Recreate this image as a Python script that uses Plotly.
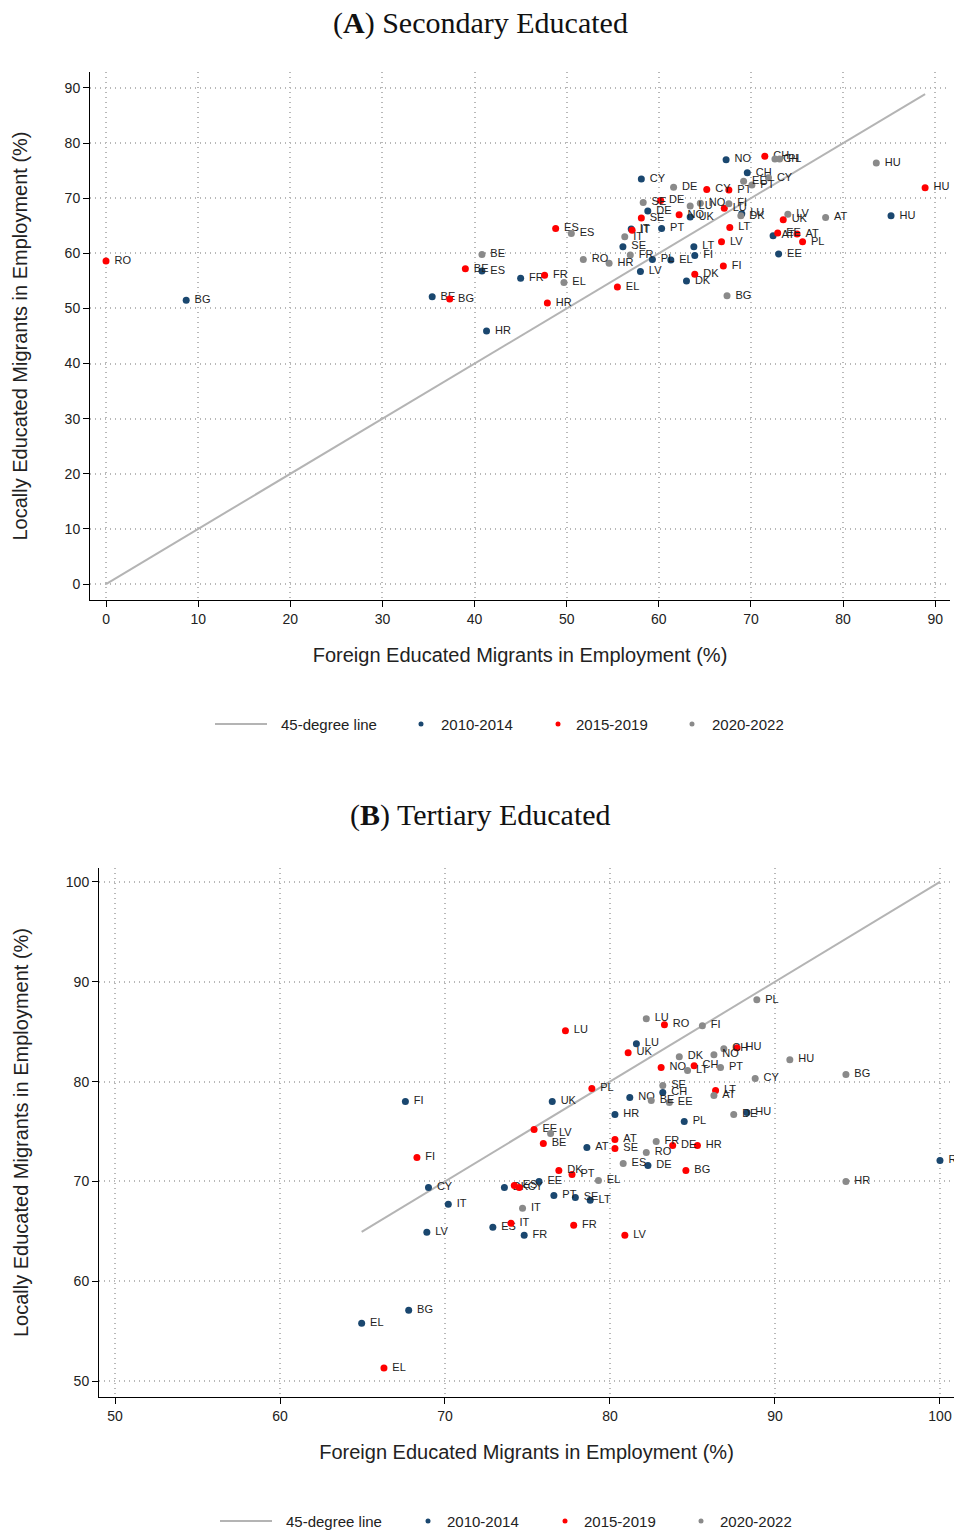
import plotly.graph_objects as go

# ---------------- Panel A: Secondary educated ----------------
a_1014_c = ["BG","BE","ES","HR","FR","SE","IT","LV","CY","DE","PL","PT","EL","UK","DK","LT","FI","NO","LU","CH","AT","EE","HU"]
a_1014_x = [8.7,35.4,40.8,41.3,45.0,56.1,57.0,58.0,58.1,58.8,59.3,60.3,61.3,63.4,63.0,63.8,63.9,67.3,69.0,69.6,72.4,73.0,85.2]
a_1014_y = [51.5,52.1,56.8,45.9,55.5,61.2,64.4,56.7,73.5,67.7,58.9,64.5,58.8,66.6,55.0,61.2,59.6,77.0,67.2,74.6,63.2,59.9,66.8]

a_1519_c = ["RO","BG","BE","FR","HR","ES","EL","IT","SE","DE","NO","DK","CY","LV","FI","LU","PT","LT","CH","EE","UK","AT","PL","HU"]
a_1519_x = [0.0,37.3,39.0,47.6,47.9,48.8,55.5,57.1,58.1,60.2,62.2,63.9,65.2,66.8,67.0,67.1,67.6,67.7,71.5,72.9,73.5,75.0,75.6,88.9]
a_1519_y = [58.6,51.7,57.2,56.0,51.0,64.5,53.9,64.2,66.4,69.6,67.0,56.2,71.6,62.1,57.7,68.2,71.5,64.7,77.6,63.7,66.1,63.5,62.1,71.9]

a_2022_c = ["BE","EL","ES","RO","HR","IT","FR","SE","DE","LU","NO","BG","FI","DK","EE","PT","CY","CH","PL","LV","AT","HU"]
a_2022_x = [40.8,49.7,50.5,51.8,54.6,56.3,56.9,58.3,61.6,63.4,64.5,67.4,67.6,68.9,69.2,70.1,71.9,72.6,73.1,74.0,78.1,83.6]
a_2022_y = [59.8,54.7,63.6,58.9,58.2,63.0,59.7,69.2,72.0,68.6,69.1,52.3,69.0,66.8,73.1,72.4,73.7,77.1,77.1,67.1,66.5,76.4]

# ---------------- Panel B: Tertiary educated ----------------
b_1014_c = ["EL","BG","FI","LV","CY","IT","ES","DK","FR","EE","UK","PT","SE","AT","LT","HR","NO","LU","DE","CH","PL","HU","RO"]
b_1014_x = [64.95,67.8,67.6,68.9,69.0,70.2,72.9,73.6,74.8,75.7,76.5,76.6,77.9,78.6,78.8,80.3,81.2,81.6,82.3,83.2,84.5,88.3,100.0]
b_1014_y = [55.8,57.1,78.0,64.9,69.4,67.7,65.4,69.4,64.6,70.0,78.0,68.6,68.4,73.4,68.1,76.7,78.4,83.8,71.6,78.9,76.0,76.9,72.1]

b_1519_c = ["EL","FI","IT","ES","CY","EE","BE","DK","LU","PT","FR","PL","AT","SE","LV","UK","NO","RO","DE","BG","CH","HR","LT","HU"]
b_1519_x = [66.3,68.3,74.0,74.2,74.5,75.4,75.96,76.9,77.3,77.7,77.8,78.9,80.3,80.3,80.9,81.1,83.1,83.3,83.8,84.6,85.1,85.3,86.4,87.7]
b_1519_y = [51.3,72.4,65.8,69.6,69.4,75.2,73.8,71.1,85.1,70.7,65.6,79.3,74.2,73.3,64.6,82.9,81.4,85.7,73.6,71.1,81.6,73.6,79.1,83.4]

b_2022_c = ["IT","LV","EL","ES","LU","RO","BE","FR","SE","EE","DK","LT","FI","NO","AT","PT","CH","DE","CY","PL","HU","BG","HR"]
b_2022_x = [74.7,76.4,79.3,80.8,82.2,82.2,82.5,82.8,83.2,83.6,84.2,84.7,85.6,86.3,86.3,86.7,86.9,87.5,88.8,88.9,90.9,94.3,94.3]
b_2022_y = [67.3,74.8,70.1,71.8,86.3,72.9,78.1,74.0,79.6,77.9,82.5,81.1,85.6,82.7,78.6,81.4,83.3,76.7,80.3,88.2,82.2,80.7,70.0]

period_names = ["2010-2014", "2015-2019", "2020-2022"]
period_colors = ["#1a476f", "#ff0000", "#8a8a8a"]

a_ticks = list(range(0, 91, 10))
b_ticks = list(range(50, 101, 10))

W, H = 954, 1531
FONT = "Liberation Sans, Arial, sans-serif"
SERIF = "Liberation Serif, Times New Roman, serif"

fig = go.Figure()

def add_panel(sets, xa, ya):
    allx = [v for s in sets for v in s[1]]
    lo, hi = min(allx), max(allx)
    fig.add_trace(go.Scatter(x=[lo, hi], y=[lo, hi], mode="lines",
                             line=dict(color="#b4b4b4", width=2),
                             showlegend=False, hoverinfo="skip",
                             xaxis=xa, yaxis=ya))
    for (c, xs, ys), col, nm in zip(sets, period_colors, period_names):
        fig.add_trace(go.Scatter(x=xs, y=ys, text=["\u00a0" + k for k in c],
                                 mode="markers+text",
                                 textposition="middle right",
                                 textfont=dict(family=FONT, size=11, color="#222222"),
                                 marker=dict(color=col, size=7),
                                 cliponaxis=False,
                                 name=nm, showlegend=False,
                                 xaxis=xa, yaxis=ya))

add_panel([(a_1014_c, a_1014_x, a_1014_y), (a_1519_c, a_1519_x, a_1519_y),
           (a_2022_c, a_2022_x, a_2022_y)], "x", "y")
add_panel([(b_1014_c, b_1014_x, b_1014_y), (b_1519_c, b_1519_x, b_1519_y),
           (b_2022_c, b_2022_x, b_2022_y)], "x2", "y2")

def px2fx(p):
    return p / W

def py2fy(p):
    return 1 - p / H

axis_common = dict(showline=True, linecolor="#000000", linewidth=1,
                   ticks="outside", ticklen=6, tickcolor="#000000",
                   tickfont=dict(family=FONT, size=14, color="#222222"),
                   showgrid=True, gridcolor="#b8b8b8", griddash="1px,4px", gridwidth=1.5,
                   zeroline=False, automargin=False, mirror=False)

xtitle = "Foreign Educated Migrants in Employment (%)"
ytitle = "Locally Educated Migrants in Employment (%)"
tfont = dict(family=FONT, size=20, color="#222222")

fig.update_layout(
    width=W, height=H, margin=dict(l=0, r=0, t=0, b=0),
    paper_bgcolor="white", plot_bgcolor="white",
    showlegend=False,
    xaxis=dict(domain=[px2fx(90), px2fx(950)], range=[-1.74, 91.6],
               tickvals=a_ticks, anchor="y",
               title=dict(text=xtitle, font=tfont, standoff=22),
               **axis_common),
    yaxis=dict(domain=[py2fy(600), py2fy(72)], range=[-2.9, 92.9],
               tickvals=a_ticks, anchor="x",
               title=dict(text=ytitle, font=tfont, standoff=31),
               **axis_common),
    xaxis2=dict(domain=[px2fx(99), 1.0], range=[49.03, 100.85],
                tickvals=b_ticks, anchor="y2",
                title=dict(text=xtitle, font=tfont, standoff=22),
                **axis_common),
    yaxis2=dict(domain=[py2fy(1397), py2fy(868)], range=[48.4, 101.4],
                tickvals=b_ticks, anchor="x2",
                title=dict(text=ytitle, font=tfont, standoff=31),
                **axis_common),
)

# Panel titles
fig.add_annotation(text="(<b>A</b>) Secondary Educated", x=px2fx(481), y=py2fy(23),
                   xref="paper", yref="paper", showarrow=False, yanchor="middle",
                   font=dict(family=SERIF, size=30, color="#111111"))
fig.add_annotation(text="(<b>B</b>) Tertiary Educated", x=px2fx(481), y=py2fy(815),
                   xref="paper", yref="paper", showarrow=False, yanchor="middle",
                   font=dict(family=SERIF, size=30, color="#111111"))

# Manual legends
def add_legend(ypix, line_x0, line_x1, text0_x, dot_xs, text_xs):
    yf = py2fy(ypix)
    fig.add_shape(type="line", xref="paper", yref="paper",
                  x0=px2fx(line_x0), x1=px2fx(line_x1), y0=yf, y1=yf,
                  line=dict(color="#b4b4b4", width=2))
    fig.add_annotation(text="45-degree line", x=px2fx(text0_x), y=yf, xref="paper", yref="paper",
                       xanchor="left", yanchor="middle", showarrow=False,
                       font=dict(family=FONT, size=15, color="#222222"))
    for dx, tx, col, nm in zip(dot_xs, text_xs, period_colors, period_names):
        fig.add_shape(type="circle", xref="paper", yref="paper",
                      xsizemode="pixel", ysizemode="pixel",
                      xanchor=px2fx(dx), yanchor=yf,
                      x0=-2.5, x1=2.5, y0=-2.5, y1=2.5,
                      fillcolor=col, line=dict(width=0))
        fig.add_annotation(text=nm, x=px2fx(tx), y=yf, xref="paper", yref="paper",
                           xanchor="left", yanchor="middle", showarrow=False,
                           font=dict(family=FONT, size=15, color="#222222"))

add_legend(724, 215, 267, 279, [421, 558, 692], [439, 574, 710])
add_legend(1521, 220, 272, 284, [428, 565, 701], [445, 582, 718])

fig.write_html("out.html")
